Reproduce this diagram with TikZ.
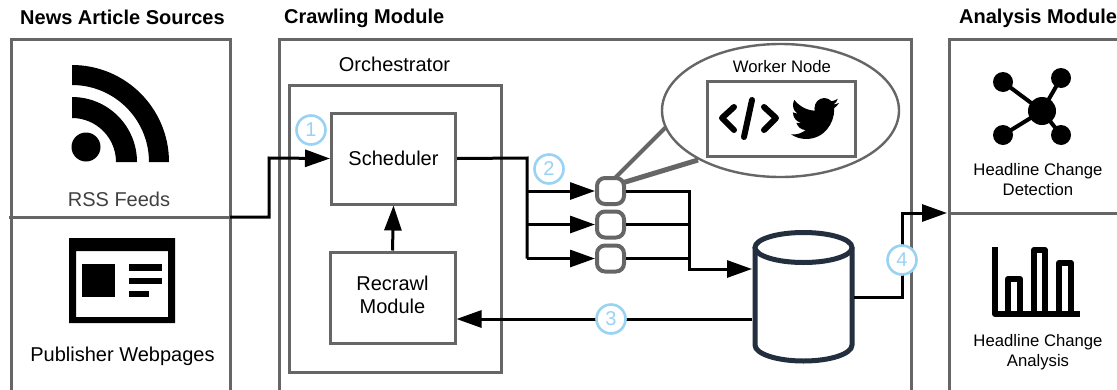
\documentclass[tikz,border=0pt]{standalone}
\usepackage{fontspec}
\setmainfont{Liberation Sans}
\usetikzlibrary{arrows.meta,svg.path}
\definecolor{boxgrey}{HTML}{666666}
\definecolor{stepblue}{HTML}{9AD2F3}
\definecolor{dbnavy}{HTML}{232F3E}
\tikzset{
  frame/.style={draw=boxgrey,line width=3pt,fill=none},
  lbl/.style={font=\fontsize{20}{22}\selectfont,text=black,inner sep=0pt,align=center},
  small/.style={font=\fontsize{16.7}{20}\selectfont,text=black,inner sep=0pt,align=center},
  title/.style={font=\fontsize{20}{22}\selectfont\bfseries,text=black,inner sep=0pt,anchor=west},
  flow/.style={draw=black,line width=3pt,-{Triangle[length=25pt,width=17pt]}},
  flowthin/.style={draw=black,line width=3pt},
  worker/.style={draw=boxgrey,line width=4pt,rounded corners=8pt,minimum width=27pt,minimum height=26pt,inner sep=0pt,fill=white},
  stepnum/.style={circle,draw=stepblue,line width=2.6pt,fill=white,minimum size=29pt,inner sep=0pt,text=stepblue,font=\fontsize{20}{22}\selectfont},
  icon/.style={fill=black,draw=none},
}
\begin{document}
\begin{tikzpicture}[x=1pt,y=-1pt]
\useasboundingbox (0,0) rectangle (1117,389);
\fill[white] (0,0) rectangle (1117,389);
% titles
\node[title] at (20,17.5) {News Article Sources};
\node[title] at (284,18.5) {Crawling Module};
\node[title] at (959,18.5) {Analysis Module};
% outer frames
\draw[frame] (11,39) rectangle (230,392);
\draw[frame] (279.5,39) rectangle (911,392);
\draw[frame] (949.5,39) rectangle (1125,392);
\draw[draw=boxgrey,line width=3pt] (949.5,213) -- (1117,213);
\coordinate (srcstart) at (9,217);
\coordinate (srcedge) at (230,217);
\draw[draw=boxgrey,line width=3pt] (srcstart) -- (srcedge);
% RSS icon
\fill[icon] (86,147) circle (14.5);
\fill[icon] (72,65) arc[start angle=-90,end angle=0,radius=97] -- (149,162) arc[start angle=0,end angle=-90,radius=77] -- cycle;
\fill[icon] (72,97) arc[start angle=-90,end angle=0,radius=65] -- (116,162) arc[start angle=0,end angle=-90,radius=44] -- cycle;
\node[lbl,text=black!75] (rss) at (119,199) {RSS Feeds};
% Publisher icon
\fill[icon,even odd rule] (69,238) rectangle (175,323) (76,251) rectangle (168,317);
\fill[icon] (82,264) rectangle (115,297);
\fill[icon] (129,264) rectangle (162,271);
\fill[icon] (129,278) rectangle (162,284);
\fill[icon] (129,291) rectangle (149,297);
\node[lbl] (pub) at (122.5,356) {Publisher Webpages};
% Orchestrator
\draw[frame] (289.5,85) rectangle (501,372);
\node[lbl] (orch) at (394.5,64) {Orchestrator};
\node[lbl,draw=boxgrey,line width=3pt,minimum width=124pt,minimum height=91pt] (sched) at (393.5,158.5) {\raisebox{1pt}{Scheduler}};
\node[lbl,draw=boxgrey,line width=3pt,minimum width=125pt,minimum height=91pt] (recrawl) at (392.5,297.5) {\raisebox{2pt}{\begin{tabular}{@{}c@{}}Recrawl\\[1pt]Module\end{tabular}}};
% Workers
\node[worker] (w1) at (610.5,191) {};
\node[worker] (w2) at (610.5,224.5) {};
\node[worker] (w3) at (610.5,258.5) {};
% callout
\draw[boxgrey,line width=4pt] (615,178) -- (666,127);
\draw[boxgrey,line width=5pt] (622,183) -- (698,160);
\draw[draw=boxgrey,line width=2.4pt,fill=white] (780.5,110.5) ellipse [x radius=118.5,y radius=66.5];
\node[small] (wn) at (782,67) {Worker Node};
\draw[frame] (707,81) rectangle (855,156);
% code icon
\draw[black,line width=6pt,line cap=round,line join=round] (734,107) -- (722,118) -- (734,130);
\draw[black,line width=6pt,line cap=round] (752,100) -- (744,137);
\draw[black,line width=6pt,line cap=round,line join=round] (764,107) -- (776,118) -- (764,130);
% bird
\fill[black,shift={(791,98)},xscale=0.094,yscale=-0.0985,shift={(0,48)}] svg "M 459.37 151.716 c 0.325 4.548 0.325 9.097 0.325 13.645 c 0 138.72 -105.583 298.558 -298.558 298.558 c -59.452 0 -114.68 -17.219 -161.137 -47.106 c 8.447 0.974 16.568 1.299 25.34 1.299 c 49.055 0 94.213 -16.568 130.274 -44.832 c -46.132 -0.975 -84.792 -31.188 -98.112 -72.772 c 6.498 0.974 12.995 1.624 19.818 1.624 c 9.421 0 18.843 -1.3 27.614 -3.573 c -48.081 -9.747 -84.143 -51.98 -84.143 -102.985 v -1.299 c 13.969 7.797 30.214 12.67 47.431 13.319 c -28.264 -18.843 -46.781 -51.005 -46.781 -87.391 c 0 -19.492 5.197 -37.36 14.294 -52.954 c 51.655 63.675 129.3 105.258 216.365 109.807 c -1.624 -7.797 -2.599 -15.918 -2.599 -24.04 c 0 -57.828 46.782 -104.934 104.934 -104.934 c 30.213 0 57.502 12.67 76.67 33.137 c 23.715 -4.548 46.456 -13.32 66.599 -25.34 c -7.798 24.366 -24.366 44.833 -46.132 57.827 c 21.117 -2.273 41.584 -8.122 60.426 -16.243 c -14.292 20.791 -32.161 39.308 -52.628 54.253 z";
% database
\draw[draw=dbnavy,line width=5pt,fill=white] (755,247.5) -- (755,345) arc[start angle=180,end angle=0,x radius=48.5,y radius=16] -- (852,247.5);
\draw[draw=dbnavy,line width=5pt,fill=white] (803.5,247.5) ellipse [x radius=48.5,y radius=15];
\coordinate (dbw) at (752,269);
\coordinate (dbw3) at (752,319);
\coordinate (dbe) at (854,297);
% connectors
\draw[flow] (srcedge) -- (269,217) -- (269,158) -- (sched.west);
\draw[flow] (recrawl.north) -- (sched.south);
\draw[flowthin] (sched.east) -- (527,158) -- (527,258.5);
\draw[flow] (527,191) -- (w1.west);
\draw[flow] (527,224.5) -- (w2.west);
\draw[flow] (527,258.5) -- (w3.west);
\draw[flow] (w1.east) -- (689,191) -- (689,269) -- (dbw);
\draw[flowthin] (w2.east) -- (689,224.5);
\draw[flowthin] (w3.east) -- (689,258.5);
\draw[flow] (dbw3) -- (recrawl.east |- dbw3);
\coordinate (anl) at (947,213);
\draw[flow] (dbe) -- (902,297) -- (902,213) -- (anl);
% step numbers
\node[stepnum] (n1) at (311,130) {1};
\node[stepnum] (n2) at (549,169) {2};
\node[stepnum] (n3) at (611,319) {3};
\node[stepnum] (n4) at (902,260) {4};
% Analysis icons
\draw[black,line width=4pt] (1003,82) -- (1042,111) (1061,78) -- (1042,111) (1003,135) -- (1042,111) (1061,135) -- (1042,111);
\fill[icon] (1042,111) circle (14);
\fill[icon] (1003,82) circle (10);
\fill[icon] (1061,78) circle (10);
\fill[icon] (1003,135) circle (10);
\fill[icon] (1061,135) circle (10);
\node[small] (det) at (1038,179.5) {Headline Change\\Detection};
\draw[black,line width=6pt,line join=round] (995,247) -- (995,314) -- (1080,314);
\draw[black,line width=6pt,line join=round] (1008,314) -- (1008,279) -- (1020,279) -- (1020,314);
\draw[black,line width=6pt,line join=round] (1034,314) -- (1034,250) -- (1045,250) -- (1045,314);
\draw[black,line width=6pt,line join=round] (1059,314) -- (1059,263) -- (1071,263) -- (1071,314);
\node[small] (ana) at (1038,352.5) {Headline Change\\Analysis};
\end{tikzpicture}
\end{document}
